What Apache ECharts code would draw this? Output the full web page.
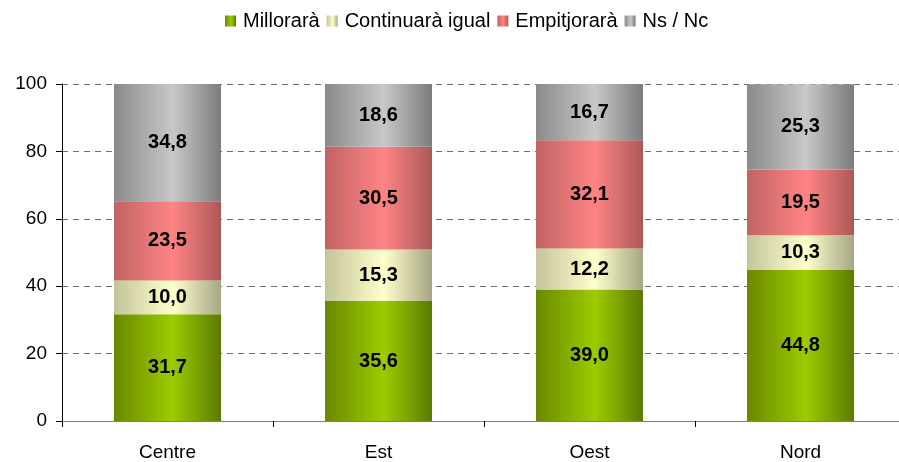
<!DOCTYPE html>
<html>
<head>
<meta charset="utf-8">
<script src="https://cdn.jsdelivr.net/npm/echarts@6/dist/echarts.min.js"></script>
<style>
  html, body { margin: 0; padding: 0; background: #fff; }
  #chart { width: 899px; height: 462px; }
</style>
</head>
<body>
<div id="chart"></div>
<script>
var categories = ['Centre', 'Est', 'Oest', 'Nord'];
var millorara = [31.7, 35.6, 39.0, 44.8];
var continuara = [10.0, 15.3, 12.2, 10.3];
var empitjorara = [23.5, 30.5, 32.1, 19.5];
var nsnc = [34.8, 18.6, 16.7, 25.3];

// degradat horitzontal tipus cilindre
function grad(dark, light, dark2) {
    return new echarts.graphic.LinearGradient(0, 0, 1, 0, [
        { offset: 0, color: dark },
        { offset: 0.55, color: light },
        { offset: 1, color: dark2 }
    ]);
}

function serie(name, data, color) {
    return {
        name: name,
        type: 'bar',
        stack: 'total',
        barWidth: 107,
        data: data,
        itemStyle: { color: color },
        label: {
            show: true,
            position: 'inside',
            color: '#000',
            fontWeight: 'bold',
            fontSize: 20,
            fontFamily: 'Liberation Sans',
            formatter: function (p) { return p.value.toFixed(1).replace('.', ','); }
        }
    };
}

var myChart = echarts.init(document.getElementById('chart'));
option = {
    backgroundColor: '#fff',
    animation: false,
    textStyle: { fontFamily: 'Liberation Sans' },
    legend: {
        top: 6,
        left: 220,
        icon: 'rect',
        itemWidth: 11,
        itemHeight: 11,
        itemGap: 7,
        textStyle: { fontSize: 20, color: '#000', padding: [0, 0, 0, 2] },
        data: ['Millorarà', 'Continuarà igual', 'Empitjorarà', 'Ns / Nc']
    },
    grid: { left: 62, top: 84, width: 844, height: 337, outerBoundsMode: 'none', containLabel: false },
    xAxis: {
        type: 'category',
        data: categories,
        axisLine: { lineStyle: { color: '#808080' } },
        axisTick: { show: true, length: 6, lineStyle: { color: '#000' } },
        axisLabel: { fontSize: 19, color: '#000', margin: 22 }
    },
    yAxis: {
        type: 'value',
        min: 0,
        max: 100,
        interval: 20,
        axisLine: { show: true, lineStyle: { color: '#000' } },
        axisTick: { show: true, length: 6, lineStyle: { color: '#000' } },
        axisLabel: { fontSize: 19, color: '#000', margin: 15 },
        splitLine: { lineStyle: { color: '#707070', type: [6, 5] } }
    },
    series: [
        serie('Millorarà', millorara, grad('#6a8800', '#9ccc00', '#5c7a00')),
        serie('Continuarà igual', continuara, grad('#c4c49c', '#ffffcc', '#a6a684')),
        serie('Empitjorarà', empitjorara, grad('#c06464', '#ff8484', '#ac5858')),
        serie('Ns / Nc', nsnc, grad('#8a8a8a', '#c8c8c8', '#7c7c7c'))
    ]
};
myChart.setOption(option);
</script>
</body>
</html>
